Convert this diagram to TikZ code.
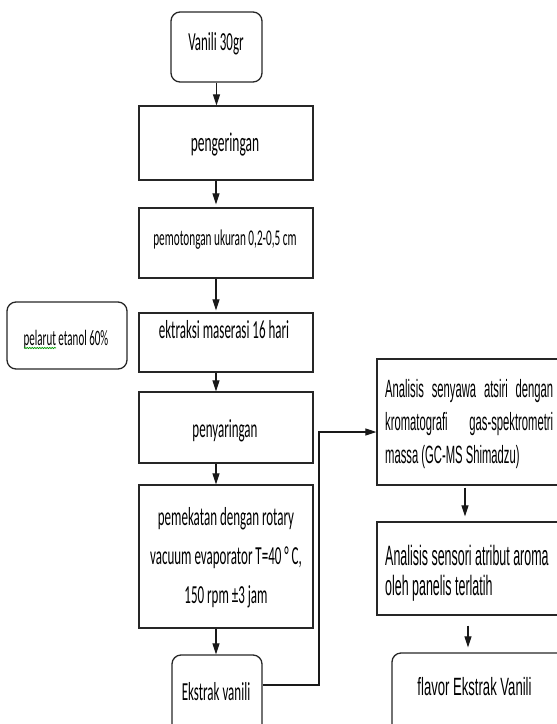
\documentclass[tikz,border=0pt]{standalone}
\usepackage{fontspec}
\setmainfont{Carlito}
\newfontfamily\calib[FakeStretch=0.5]{Carlito}
\newfontfamily\arnA[FakeStretch=0.45]{Liberation Sans}
\newfontfamily\arnB[FakeStretch=0.445]{Liberation Sans}
\newfontfamily\arnC[FakeStretch=0.524]{Liberation Sans}
\usetikzlibrary{arrows.meta,decorations.pathmorphing}
\begin{document}
\begin{tikzpicture}[x=1pt,y=-1pt,
  box/.style={draw=black!85, line width=1.3pt, inner sep=0pt},
  rbox/.style={box, rounded corners=9pt},
  txt/.style={inner sep=0pt, text=black},
  lft/.style={txt, font=\calib\fontsize{26}{39}\selectfont},
  arr/.style={-{Triangle[length=11pt,width=7pt]}, line width=1.2pt, draw=black!90},
]
\useasboundingbox (0,0) rectangle (557,724);
\clip (0,0) rectangle (557,724);
% left column boxes
\node[rbox, minimum width=91pt, minimum height=70pt] (b1) at (216.5,47) {};
\node[box, minimum width=174pt, minimum height=74pt] (b2) at (226,143) {};
\node[box, minimum width=174pt, minimum height=70pt] (b3) at (226,243) {};
\node[box, minimum width=174pt, minimum height=59pt] (b4) at (226,342.5) {};
\node[box, minimum width=174pt, minimum height=71pt] (b5) at (226,427.5) {};
\node[box, minimum width=174pt, minimum height=143pt] (b6) at (226,556.5) {};
\node[rbox, minimum width=90pt, minimum height=85pt] (b7) at (217,697.5) {};
\node[rbox, minimum width=120pt, minimum height=67pt] (p) at (67,335.5) {};
% right column boxes
\node[box, minimum width=224pt, minimum height=126pt] (a1) at (489,422) {};
\node[box, minimum width=224pt, minimum height=93pt] (a2) at (489,568.5) {};
\node[rbox, minimum width=218pt, minimum height=92pt] (a3) at (501,699) {};
% texts
\node[lft, anchor=base] (t1) at (216,50) {Vanili 30gr};
\node[txt, anchor=base, font=\calib\fontsize{27}{32}\selectfont] (t2) at (225,151) {pengeringan};
\node[txt, anchor=base, font=\calib\fontsize{22.5}{27}\selectfont] (t3) at (225,245) {pemotongan ukuran 0,2-0,5 cm};
\node[lft, anchor=base] (t4) at (224,338) {ektraksi maserasi 16 hari};
\node[lft, anchor=base] (t5) at (225,437) {penyaringan};
\node[lft, anchor=base] (t6) at (226,525) {\parbox[t]{172pt}{\centering pemekatan dengan rotary\\ vacuum evaporator T=40 ° C,\\ 150 rpm ±3 jam}};
\node[lft, anchor=base] (t7) at (216,700) {Ekstrak vanili};
\node[txt, anchor=base, font=\calib\fontsize{22}{26}\selectfont] (tp) at (66,345) {pelarut etanol 60\%};
\draw[green!60!black, line width=0.7pt, decorate, decoration={snake, amplitude=0.7pt, segment length=2.5pt}] (24,348) -- (56,348);
\node[txt, anchor=base west, font=\arnA\fontsize{25}{33}\selectfont] (ta1) at (385,397)
  {\parbox[t]{169pt}{\makebox[168pt][s]{Analisis senyawa atsiri dengan}\\ \makebox[168pt][s]{kromatografi gas-spektrometri}\\ massa (GC-MS Shimadzu)}};
\node[txt, anchor=base west, font=\arnB\fontsize{28}{30}\selectfont] (ta2) at (385,565)
  {\parbox[t]{172pt}{Analisis sensori atribut aroma\\ oleh panelis terlatih}};
\node[txt, anchor=base, font=\arnC\fontsize{25}{30}\selectfont] (ta3) at (474.5,695) {flavor Ekstrak Vanili};
% connectors
\coordinate (cx) at (216,0);
\draw[arr] (b1.south) -- (b2.north -| b1.south);
\draw[arr] (b2.south -| cx) -- ([yshift=3pt]b3.north -| cx);
\draw[arr] (b3.south -| cx) -- ([yshift=2pt]b4.north -| cx);
\draw[arr] (b4.south -| cx) -- (b5.north -| cx);
\draw[arr] (b5.south -| cx) -- (b6.north -| cx);
\draw[arr] (b6.south -| cx) -- (b7.north -| cx);
\coordinate (j1) at (319,685);
\coordinate (j2) at (319,432);
\draw[arr] (j1 -| b7.east) -- (j1) -- (j2) -- (j2 -| a1.west);
\coordinate (r1) at (465,0);
\coordinate (r2) at (468,0);
\draw[arr] ([yshift=-2pt]a1.south -| r1) -- ([yshift=5pt]a2.north -| r1);
\draw[arr] ([yshift=-10pt]a2.south -| r2) -- ([yshift=5pt]a3.north -| r2);
\end{tikzpicture}
\end{document}
